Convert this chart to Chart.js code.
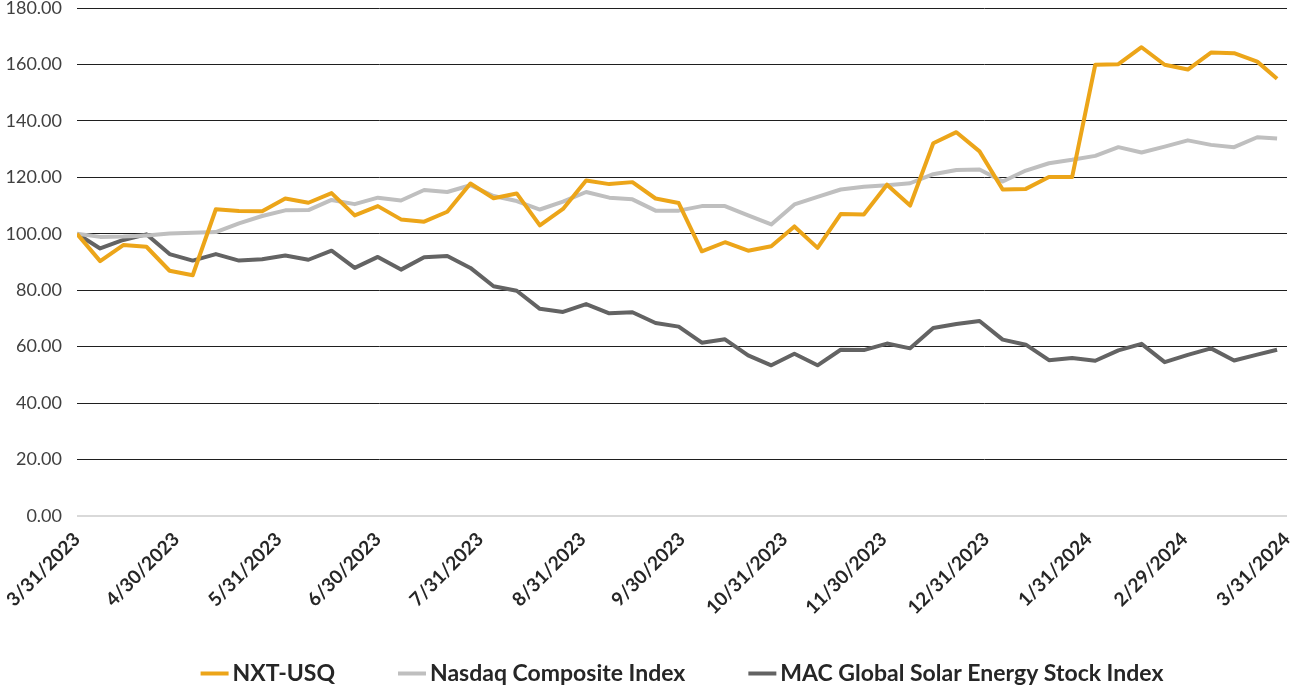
<!DOCTYPE html>
<html>
<head>
<meta charset="utf-8">
<script src="https://cdn.jsdelivr.net/npm/chart.js@4.4.1/dist/chart.umd.min.js"></script>
<style>
html,body{margin:0;padding:0;background:#ffffff;}
#wrap{width:1298px;height:686px;position:relative;}
</style>
</head>
<body>
<div id="wrap"><canvas id="c" width="1298" height="686"></canvas></div>
<script>
// ---- data ----
const dates = [
  '2023-03-31','2023-04-07','2023-04-14','2023-04-21','2023-04-28',
  '2023-05-05','2023-05-12','2023-05-19','2023-05-26',
  '2023-06-02','2023-06-09','2023-06-16','2023-06-23','2023-06-30',
  '2023-07-07','2023-07-14','2023-07-21','2023-07-28',
  '2023-08-04','2023-08-11','2023-08-18','2023-08-25',
  '2023-09-01','2023-09-08','2023-09-15','2023-09-22','2023-09-29',
  '2023-10-06','2023-10-13','2023-10-20','2023-10-27',
  '2023-11-03','2023-11-10','2023-11-17','2023-11-24',
  '2023-12-01','2023-12-08','2023-12-15','2023-12-22','2023-12-29',
  '2024-01-05','2024-01-12','2024-01-19','2024-01-26',
  '2024-02-02','2024-02-09','2024-02-16','2024-02-23',
  '2024-03-01','2024-03-08','2024-03-15','2024-03-22','2024-03-28'
];
const nxtUsq = [
  100.0, 90.3, 96.0, 95.4, 86.9, 85.3, 108.7, 108.1, 108.0, 112.5,
  111.0, 114.4, 106.5, 109.8, 105.1, 104.3, 107.8, 117.8, 112.6, 114.3,
  103.0, 108.8, 118.9, 117.6, 118.3, 112.5, 110.9, 93.8, 97.0, 94.0,
  95.6, 102.6, 95.0, 107.0, 106.8, 117.4, 110.0, 132.1, 136.0, 129.2,
  115.7, 115.9, 120.1, 120.1, 159.9, 160.1, 166.1, 159.9, 158.2, 164.2,
  164.0, 161.0, 154.9
];
const nasdaqComposite = [
  100.0, 98.9, 99.0, 99.4, 100.1, 100.4, 100.6, 103.7, 106.3, 108.3,
  108.4, 112.0, 110.5, 112.8, 111.8, 115.5, 114.8, 117.2, 113.4, 111.6,
  108.6, 111.4, 114.8, 112.8, 112.2, 108.2, 108.2, 109.8, 109.8, 106.5,
  103.3, 110.4, 113.1, 115.7, 116.7, 117.2, 117.9, 121.1, 122.6, 122.8,
  118.5, 122.4, 125.0, 126.2, 127.6, 130.7, 128.8, 130.9, 133.1, 131.5,
  130.7, 134.2, 133.8
];
const macSolar = [
  100.0, 94.8, 97.8, 99.8, 92.8, 90.5, 92.8, 90.5, 91.0, 92.3,
  90.8, 94.0, 87.9, 91.8, 87.3, 91.7, 92.1, 87.9, 81.4, 79.8,
  73.4, 72.3, 75.1, 71.8, 72.2, 68.4, 67.1, 61.4, 62.6, 56.9,
  53.4, 57.5, 53.4, 58.9, 58.8, 61.1, 59.4, 66.6, 68.0, 69.1,
  62.5, 60.7, 55.2, 56.0, 55.0, 58.7, 61.0, 54.5, 57.1, 59.4,
  55.1, 57.2, 58.9
];
const seriesNames = ['NXT-USQ', 'Nasdaq Composite Index', 'MAC Global Solar Energy Stock Index'];
const xTickLabels = ['3/31/2023','4/30/2023','5/31/2023','6/30/2023','7/31/2023','8/31/2023',
  '9/30/2023','10/31/2023','11/30/2023','12/31/2023','1/31/2024','2/29/2024','3/31/2024'];
const yMin = 0, yMax = 180, yStep = 20;

// ---- helpers ----
const baseDay = Date.UTC(2023, 2, 31);
function isoToDay(s){ const p = s.split('-').map(Number); return (Date.UTC(p[0], p[1]-1, p[2]) - baseDay) / 86400000; }
function mdyToDay(s){ const p = s.split('/').map(Number); return (Date.UTC(p[2], p[0]-1, p[1]) - baseDay) / 86400000; }
const xDays = dates.map(isoToDay);
const tickDays = xTickLabels.map(mdyToDay);
const tickLabelByDay = {};
tickDays.forEach((d, i) => { tickLabelByDay[d] = xTickLabels[i]; });
function pts(arr){ return arr.map((v, i) => ({x: xDays[i], y: v})); }

const colors = ['#ECA519', '#BFBFBF', '#636363'];
const valuesList = [nxtUsq, nasdaqComposite, macSolar];

const legendPlugin = {
  id: 'customLegend',
  afterDraw(chart){
    const ctx = chart.ctx, area = chart.chartArea;
    ctx.save();
    ctx.font = 'bold 23px Lato';
    const sampleW = 28, gapText = 4, gapItem = 63;
    const items = chart.data.datasets.map(ds => ({label: ds.label, color: ds.borderColor, w: ctx.measureText(ds.label).width}));
    const total = items.reduce((s, it) => s + sampleW + gapText + it.w, 0) + gapItem * (items.length - 1);
    let x = (area.left + area.right) / 2 - total / 2;
    const y = 673.5;
    items.forEach(it => {
      ctx.strokeStyle = it.color; ctx.lineWidth = 4; ctx.lineCap = 'butt';
      ctx.beginPath(); ctx.moveTo(x, y); ctx.lineTo(x + sampleW, y); ctx.stroke();
      ctx.fillStyle = '#262626'; ctx.textBaseline = 'middle'; ctx.textAlign = 'left';
      ctx.fillText(it.label, x + sampleW + gapText, y);
      x += sampleW + gapText + it.w + gapItem;
    });
    ctx.restore();
  }
};

new Chart(document.getElementById('c'), {
  type: 'line',
  data: {
    datasets: seriesNames.map((name, i) => ({
      label: name,
      data: pts(valuesList[i]),
      borderColor: colors[i],
      backgroundColor: colors[i],
      borderWidth: 4,
      pointRadius: 0,
      tension: 0,
      borderJoinStyle: 'round',
      fill: false
    }))
  },
  options: {
    responsive: false,
    animation: false,
    devicePixelRatio: 1,
    layout: { padding: { top: 8, right: 11, bottom: 40, left: 0 } },
    plugins: { legend: { display: false }, tooltip: { enabled: false } },
    scales: {
      x: {
        type: 'linear',
        min: 0,
        max: tickDays[tickDays.length - 1],
        afterBuildTicks(scale){ scale.ticks = tickDays.map(v => ({value: v})); },
        afterFit(scale){ scale.height = 130; scale.paddingLeft = 0; scale.paddingRight = 0; },
        grid: { display: false, drawTicks: false },
        border: { display: false },
        ticks: {
          autoSkip: false,
          minRotation: 45,
          maxRotation: 45,
          padding: 12,
          color: '#262626',
          font: { family: 'Lato', size: 19, weight: 'bold' },
          callback(v){ return tickLabelByDay[v] || ''; }
        }
      },
      y: {
        min: yMin,
        max: yMax,
        afterFit(scale){ scale.width = 77; scale.paddingTop = 0; scale.paddingBottom = 0; },
        grid: {
          drawTicks: false,
          color(ctx){ return ctx.tick && ctx.tick.value === 0 ? '#D9D9D9' : '#1F1F1F'; },
          lineWidth(ctx){ return ctx.tick && ctx.tick.value === 0 ? 2 : 1; }
        },
        border: { display: false },
        ticks: {
          stepSize: yStep,
          padding: 15,
          color: '#404040',
          font: { family: 'Lato', size: 18, lineHeight: 0.9 },
          callback(v){ return Number(v).toFixed(2); }
        }
      }
    }
  },
  plugins: [legendPlugin]
});
</script>
</body>
</html>
